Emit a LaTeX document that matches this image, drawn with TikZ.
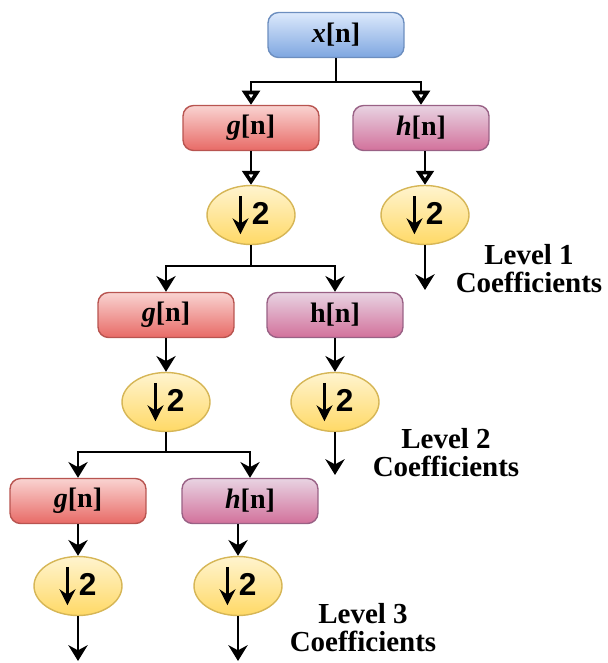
\documentclass[tikz,border=0pt]{standalone}
\usepackage{fontspec}
\setmainfont{Liberation Serif}
\newfontfamily\digitfont{Liberation Sans}
\usetikzlibrary{arrows.meta,shapes.geometric}

\definecolor{bluetop}{HTML}{DCE9FC}
\definecolor{bluebot}{HTML}{7EA6E0}
\definecolor{blueedge}{HTML}{6C8EBF}
\definecolor{redtop}{HTML}{F9D3D1}
\definecolor{redbot}{HTML}{E86A66}
\definecolor{rededge}{HTML}{B85450}
\definecolor{purtop}{HTML}{E8D3E2}
\definecolor{purbot}{HTML}{D2719B}
\definecolor{puredge}{HTML}{996185}
\definecolor{yeltop}{HTML}{FFF4CF}
\definecolor{yelbot}{HTML}{FFD966}
\definecolor{yeledge}{HTML}{D6B656}

% down-sampling symbol: arrow followed by the factor 2
\newcommand\downbytwo{%
  \tikz[baseline=0pt]{\draw[line width=1.5pt,-{Stealth[length=9pt,width=9pt]}]
    (0,0.57cm) -- (0,-0.2cm);}%
  \hspace{2pt}{\digitfont\bfseries\fontsize{18}{18}\selectfont 2}}

\tikzset{
  box/.style={rectangle, rounded corners=6pt, minimum width=2.72cm,
    minimum height=0.9cm, line width=0.8pt,
    font=\fontsize{16}{18}\selectfont\bfseries},
  inbox/.style={box, draw=blueedge, top color=bluetop, bottom color=bluebot},
  gbox/.style={box, draw=rededge, top color=redtop, bottom color=redbot},
  hbox/.style={box, draw=puredge, top color=purtop, bottom color=purbot},
  dsamp/.style={ellipse, minimum width=1.76cm, minimum height=1.18cm,
    inner sep=0pt, draw=yeledge, top color=yeltop, bottom color=yelbot,
    line width=0.8pt},
  wire/.style={line width=1.1pt},
  openarr/.style={wire, -{Triangle[open, length=8pt, width=10pt, line width=2.2pt]}},
  solidarr/.style={wire, -{Stealth[length=9pt, width=11pt]}},
  lvl/.style={align=center, font=\fontsize{16.5}{16}\selectfont\bfseries}
}

\begin{document}
\begin{tikzpicture}[x=0.02cm, y=-0.02cm]
\useasboundingbox (0,0) rectangle (608,663);

% input
\node[inbox] (x) at (336,35) {\textit{x}[n]};

% level 1
\node[gbox] (g1) at (251,128) {\textit{g}[n]};
\node[hbox] (h1) at (421,128) {\textit{h}[n]};
\node[dsamp] (d1) at (251,215) {\downbytwo};
\node[dsamp] (e1) at (425,215) {\downbytwo};
\coordinate (s1) at (336,82);
\coordinate (o1) at (425,290);
\node[lvl] (t1) at (529,269) {Level 1\\Coefficients};

% level 2
\node[gbox] (g2) at (166,315) {\textit{g}[n]};
\node[hbox] (h2) at (335,315) {h[n]};
\node[dsamp] (d2) at (166,402) {\downbytwo};
\node[dsamp] (e2) at (335,402) {\downbytwo};
\coordinate (s2) at (251,266);
\coordinate (o2) at (335,475);
\node[lvl] (t2) at (446,453) {Level 2\\Coefficients};

% level 3
\node[gbox] (g3) at (78,501) {\textit{g}[n]};
\node[hbox] (h3) at (250,501) {\textit{h}[n]};
\node[dsamp] (d3) at (78,586) {\downbytwo};
\node[dsamp] (e3) at (238,586) {\downbytwo};
\coordinate (s3) at (166,452);
\coordinate (o3a) at (78,661);
\coordinate (o3b) at (238,661);
\node[lvl] (t3) at (363,628) {Level 3\\Coefficients};

% level 1 connectors
\draw[wire] (x.south) -- (s1);
\draw[openarr] (s1) -| (g1.north);
\draw[openarr] (s1) -| (h1.north);
\draw[openarr] (g1.south) -- (d1.north);
\draw[openarr] (h1.south -| e1.north) -- (e1.north);
\draw[solidarr] (e1.south) -- (o1);

% level 2 connectors
\draw[wire] (d1.south) -- (s2);
\draw[solidarr] (s2) -| (g2.north);
\draw[solidarr] (s2) -| (h2.north);
\draw[solidarr] (g2.south) -- (d2.north);
\draw[solidarr] (h2.south) -- (e2.north);
\draw[solidarr] (e2.south) -- (o2);

% level 3 connectors
\draw[wire] (d2.south) -- (s3);
\draw[solidarr] (s3) -| (g3.north);
\draw[solidarr] (s3) -| (h3.north);
\draw[solidarr] (g3.south) -- (d3.north);
\draw[solidarr] (h3.south -| e3.north) -- (e3.north);
\draw[solidarr] (d3.south) -- (o3a);
\draw[solidarr] (e3.south) -- (o3b);
\end{tikzpicture}
\end{document}
